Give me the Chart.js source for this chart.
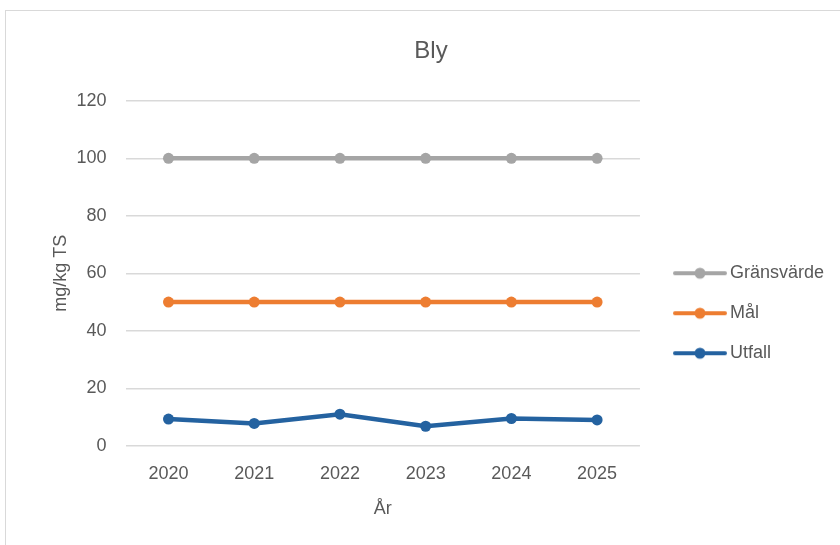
<!DOCTYPE html>
<html>
<head>
<meta charset="utf-8">
<script src="https://cdn.jsdelivr.net/npm/chart.js@4.4.1/dist/chart.umd.min.js"></script>
<style>
  html, body { margin: 0; padding: 0; background: #fff; }
  #wrap {
    position: absolute; left: 5px; top: 10px;
    width: 845px; height: 545px;
    border: 1px solid #d9d9d9; box-sizing: border-box;
  }
  #chart { display: block; }
</style>
</head>
<body>
<div id="wrap"><canvas id="chart" width="843" height="543"></canvas></div>
<script>
const years = ['2020', '2021', '2022', '2023', '2024', '2025'];
const gransvarde = [100, 100, 100, 100, 100, 100];
const mal = [50, 50, 50, 50, 50, 50];
const utfall = [9.3, 7.8, 11.0, 6.8, 9.5, 9.0];
const yTicks = [0, 20, 40, 60, 80, 100, 120];

const txt = '#595959';
const font = "'Liberation Sans', Arial, sans-serif";
const iconPad = 19;

// line + dot sample for the legend (blank margin on the left)
function legendIcon(color) {
    const c = document.createElement('canvas');
    c.width = iconPad + 52; c.height = 14;
    const g = c.getContext('2d');
    g.strokeStyle = color;
    g.lineWidth = 4;
    g.lineCap = 'round';
    g.beginPath(); g.moveTo(iconPad, 7); g.lineTo(iconPad + 50, 7); g.stroke();
    g.fillStyle = color;
    g.beginPath(); g.arc(iconPad + 25, 7, 5.5, 0, Math.PI * 2); g.fill();
    return c;
}

function series(label, data, color) {
    return {
        label: label,
        data: data,
        borderColor: color,
        backgroundColor: color,
        borderWidth: 4.5,
        pointRadius: 5.5,
        pointHoverRadius: 6,
        pointBorderWidth: 0,
        tension: 0,
        icon: legendIcon(color)
    };
}

const data = {
    labels: years,
    datasets: [
        series('Gränsvärde', gransvarde, '#a5a5a5'),
        series('Mål', mal, '#ed7d31'),
        series('Utfall', utfall, '#2462a0')
    ]
};

const config = {
    type: 'line',
    data: data,
    options: {
        responsive: false,
        animation: false,
        layout: { padding: { top: 18, left: 22, right: 15, bottom: 30 } },
        plugins: {
            title: {
                display: true,
                text: 'Bly',
                color: txt,
                font: { family: font, size: 24, weight: 'normal' },
                padding: { top: 8, bottom: 35 }
            },
            legend: {
                position: 'right',
                title: { display: true, text: ' ', padding: { top: 59, bottom: 0 } },
                labels: {
                    color: txt,
                    font: { family: font, size: 18 },
                    usePointStyle: true,
                    pointStyleWidth: 59,
                    padding: 22,
                    generateLabels: function (chart) {
                        return chart.data.datasets.map(function (ds, i) {
                            return {
                                text: ds.label,
                                pointStyle: ds.icon,
                                fillStyle: ds.borderColor,
                                strokeStyle: ds.borderColor,
                                lineWidth: 0,
                                fontColor: txt,
                                hidden: false,
                                datasetIndex: i
                            };
                        });
                    }
                }
            },
            tooltip: { enabled: false }
        },
        scales: {
            x: {
                offset: true,
                grid: { display: false },
                border: { display: false },
                ticks: { color: txt, font: { family: font, size: 18 }, padding: 9 },
                title: { display: true, text: 'År', color: txt, font: { family: font, size: 18 }, padding: { top: 5 } }
            },
            y: {
                min: 0,
                max: 120,
                afterBuildTicks: function (axis) {
                    axis.ticks = yTicks.map(function (v) { return { value: v }; });
                },
                afterFit: function (axis) { axis.width -= 14; },
                grid: { color: '#d9d9d9', lineWidth: 1.5, drawTicks: false },
                border: { display: false },
                ticks: { color: txt, font: { family: font, size: 18 }, padding: 19 },
                title: { display: true, text: 'mg/kg TS', color: txt, font: { family: font, size: 18 }, padding: { top: 22, bottom: 0 } }
            }
        }
    }
};

new Chart(document.getElementById('chart').getContext('2d'), config);
</script>
</body>
</html>
